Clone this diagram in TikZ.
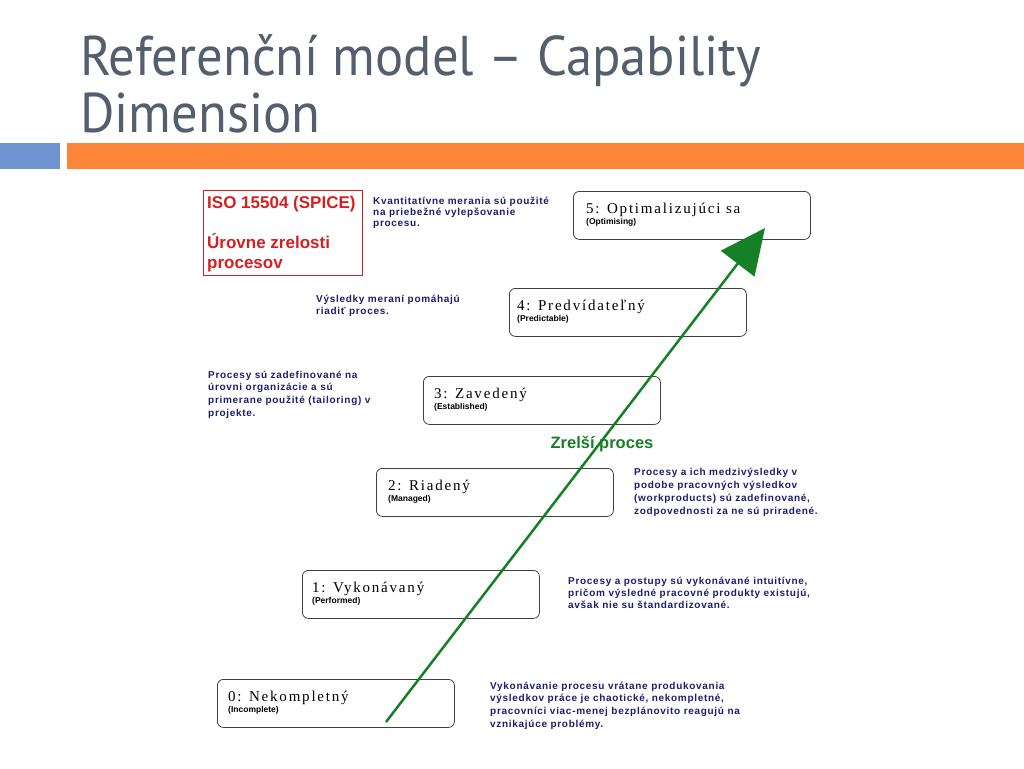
\documentclass[tikz,border=0pt]{standalone}
\usepackage{fontspec}
\setmainfont{Liberation Sans}
\newfontfamily\titlefont[FakeStretch=0.94]{PT Sans}
\newfontfamily\lvlfont[LetterSpace=12]{Liberation Serif}
\newfontfamily\descfont[LetterSpace=7]{Liberation Sans}
\usetikzlibrary{arrows.meta}
\definecolor{titlegray}{RGB}{84,95,110}
\definecolor{barblue}{RGB}{111,150,210}
\definecolor{barorange}{RGB}{252,134,56}
\definecolor{descblue}{RGB}{30,30,110}
\definecolor{isored}{RGB}{212,32,32}
\definecolor{arrowgreen}{RGB}{22,128,38}
\tikzset{
  titlestyle/.style={font=\titlefont\fontsize{56}{56}\selectfont, text=titlegray, inner sep=0, anchor=base west},
  lvlbox/.style={draw=black!75, line width=0.8pt, rounded corners=6pt, fill=white, minimum width=237pt, minimum height=48pt, anchor=north west, inner sep=0},
  lvltext/.style={font=\lvlfont\fontsize{15}{15}\selectfont, inner sep=0, anchor=base west},
  lvlsub/.style={font=\bfseries\fontsize{8.5}{8.5}\selectfont, inner sep=0, anchor=base west},
  desc/.style={font=\descfont\bfseries, text=descblue, inner sep=0, anchor=base west},
  isotext/.style={font=\bfseries\fontsize{17}{17}\selectfont, text=isored, inner sep=0, anchor=base west},
}
\begin{document}
\begin{tikzpicture}[x=1pt,y=-1pt]
\useasboundingbox (0,0) rectangle (1024,768);
\fill[white] (0,0) rectangle (1024,768);
% title
\node[titlestyle] (t1) at (80,75) {Referenční model – Capability};
\node[titlestyle] (t2) at (80,132) {Dimension};
% bars
\fill[barblue] (0,143) rectangle (60,169);
\fill[barorange] (67,143) rectangle (1024,169);
% ISO box
\node[draw=isored, line width=0.8pt, minimum width=159pt, minimum height=85pt, anchor=north west, inner sep=0] (iso) at (203,190) {};
\node[isotext] (iso1) at (207,208) {ISO 15504 (SPICE)};
\node[isotext] (iso2) at (207,248) {Úrovne zrelosti};
\node[isotext] (iso3) at (207,268) {procesov};
% level boxes
\node[lvlbox] (L5) at (573,191) {};
\node[lvltext] (L5a) at ([shift={(13,22)}]L5.north west) {5: Optimalizujúci sa};
\node[lvlsub] (L5b) at ([shift={(13,33)}]L5.north west) {(Optimising)};
\node[lvlbox] (L4) at (509,288) {};
\node[lvltext] (L4a) at ([shift={(8,22)}]L4.north west) {4: Predvídateľný};
\node[lvlsub] (L4b) at ([shift={(8,33)}]L4.north west) {(Predictable)};
\node[lvlbox] (L3) at (423,376) {};
\node[lvltext] (L3a) at ([shift={(11,22)}]L3.north west) {3: Zavedený};
\node[lvlsub] (L3b) at ([shift={(11,33)}]L3.north west) {(Established)};
\node[lvlbox] (L2) at (376,468) {};
\node[lvltext] (L2a) at ([shift={(12,22)}]L2.north west) {2: Riadený};
\node[lvlsub] (L2b) at ([shift={(12,33)}]L2.north west) {(Managed)};
\node[lvlbox] (L1) at (302,570) {};
\node[lvltext] (L1a) at ([shift={(10,22)}]L1.north west) {1: Vykonávaný};
\node[lvlsub] (L1b) at ([shift={(10,33)}]L1.north west) {(Performed)};
\node[lvlbox] (L0) at (217,679) {};
\node[lvltext] (L0a) at ([shift={(11,22)}]L0.north west) {0: Nekompletný};
\node[lvlsub] (L0b) at ([shift={(11,33)}]L0.north west) {(Incomplete)};
% descriptions
\node[desc] (d5) at (373,204) {\fontsize{10}{11}\selectfont\begin{tabular}[t]{@{}l@{}}Kvantitatívne merania sú použité\\na priebežné vylepšovanie\\procesu.\end{tabular}};
\node[desc] (d4) at (316,302) {\fontsize{10}{12.5}\selectfont\begin{tabular}[t]{@{}l@{}}Výsledky meraní pomáhajú\\riadiť proces.\end{tabular}};
\node[desc] (d3) at (208,378) {\fontsize{10}{12.7}\selectfont\begin{tabular}[t]{@{}l@{}}Procesy sú zadefinované na\\úrovni organizácie a sú\\primerane použité (tailoring) v\\projekte.\end{tabular}};
\node[desc] (d2) at (634,475) {\fontsize{10}{13.2}\selectfont\begin{tabular}[t]{@{}l@{}}Procesy a ich medzivýsledky v\\podobe pracovných výsledkov\\(workproducts) sú zadefinované,\\zodpovednosti za ne sú priradené.\end{tabular}};
\node[desc] (d1) at (568,584) {\fontsize{10}{12.2}\selectfont\begin{tabular}[t]{@{}l@{}}Procesy a postupy sú vykonávané intuitívne,\\pričom výsledné pracovné produkty existujú,\\avšak nie su štandardizované.\end{tabular}};
\node[desc] (d0) at (490,689) {\fontsize{10}{12.8}\selectfont\begin{tabular}[t]{@{}l@{}}Vykonávanie procesu vrátane produkovania\\výsledkov práce je chaotické, nekompletné,\\pracovníci viac-menej bezplánovito reagujú na\\vznikajúce problémy.\end{tabular}};
% arrow
\node[font=\bfseries\fontsize{16.5}{16.5}\selectfont, text=arrowgreen, inner sep=0, anchor=base] (zp) at (602,448) {Zrelší proces};
\coordinate (as) at (386,722);
\coordinate (at) at (765,228);
\draw[arrowgreen, line width=2.5pt, -{Triangle[length=45pt,width=42pt]}] (as) -- (at);
\end{tikzpicture}
\end{document}
